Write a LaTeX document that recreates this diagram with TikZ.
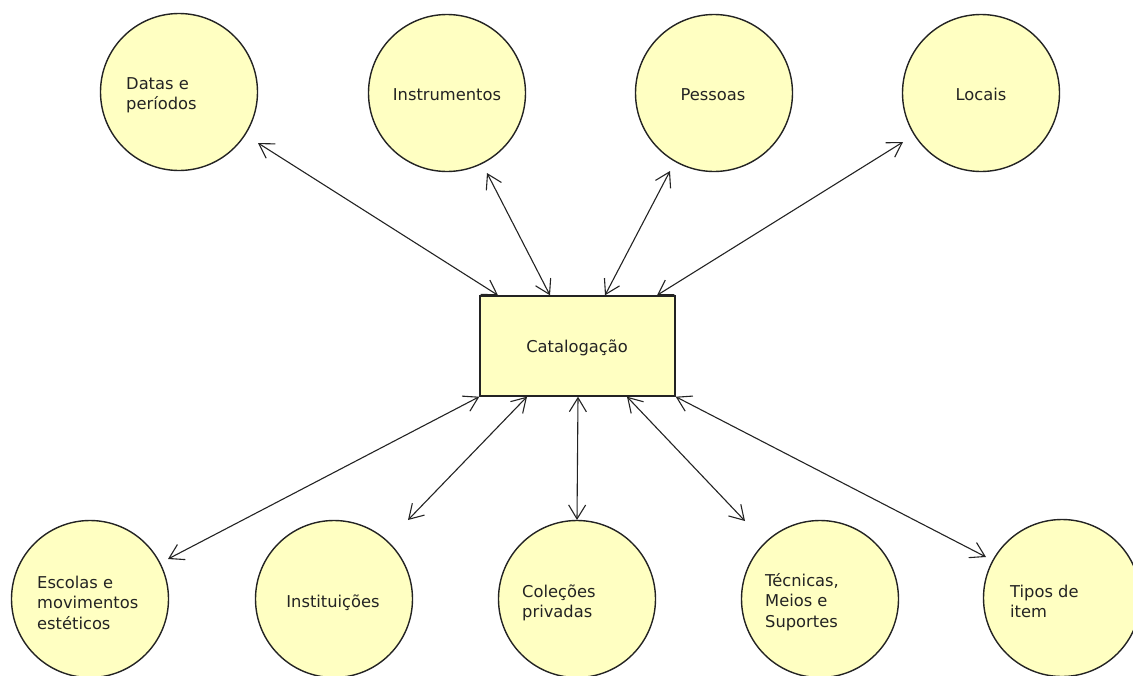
\documentclass[tikz,border=0pt]{standalone}
\usepackage{fontspec}
\setmainfont{DejaVu Sans}
\usetikzlibrary{arrows.meta,calc}
\definecolor{bubble}{RGB}{255,255,194}
\definecolor{ink}{RGB}{35,35,35}
\begin{document}
\begin{tikzpicture}[x=1pt,y=-1pt,
  topic/.style={circle,draw=ink,line width=1.4pt,fill=bubble,minimum size=157pt,inner sep=0pt},
  hub/.style={rectangle,draw=ink,line width=1.4pt,fill=bubble,minimum width=195pt,minimum height=100pt,inner sep=0pt},
  lbl/.style={text=ink,font=\fontsize{16.3}{20.5}\selectfont,inner sep=0pt,align=left},
  link/.style={draw=ink,line width=1.1pt,{Straight Barb[length=14pt,width=17pt]}-{Straight Barb[length=14pt,width=17pt]}}]
\useasboundingbox (0,0) rectangle (1133,675);
\clip (0,0) rectangle (1133,675);

% central box
\node[hub] (cat) at (577.5,346) {};
\node[lbl,anchor=base] (cat-t) at (577,352) {Catalogação};

% upper topics
\node[topic] (datas) at (179,92) {};
\node[topic] (instr) at (447,93) {};
\node[topic] (pess) at (714,93) {};
\node[topic] (loc) at (981,93) {};

% lower topics
\node[topic] (esc) at (90,599) {};
\node[topic] (inst) at (334,599) {};
\node[topic] (col) at (577,599) {};
\node[topic] (tec) at (820,599) {};
\node[topic] (tip) at (1062,598) {};

% labels (base anchor = baseline of the last line)
\node[lbl,anchor=base west] (datas-t) at ($(datas)+(-53,17.5)$) {Datas e\\períodos};
\node[lbl,anchor=base] (instr-t) at (447,100) {Instrumentos};
\node[lbl,anchor=base] (pess-t) at (713,100) {Pessoas};
\node[lbl,anchor=base] (loc-t) at (981,100) {Locais};
\node[lbl,anchor=base west] (esc-t) at ($(esc)+(-53,30)$) {Escolas e\\movimentos\\est\'{e}ticos};
\node[lbl,anchor=base] (inst-t) at (333,607) {Instituições};
\node[lbl,anchor=base west] (col-t) at ($(col)+(-55,18.5)$) {Coleções\\privadas};
\node[lbl,anchor=base west] (tec-t) at ($(tec)+(-55,28)$) {T\'{e}cnicas,\\Meios e\\Suportes};
\node[lbl,anchor=base west] (tip-t) at ($(tip)+(-52,19.5)$) {Tipos de\\item};

% connector ends near the topics
\coordinate (datas-e) at ($(datas)+(79,51)$);
\coordinate (instr-e) at ($(instr)+(40,80)$);
\coordinate (pess-e) at ($(pess)+(-44,78)$);
\coordinate (loc-e) at ($(loc)+(-78,49)$);
\coordinate (esc-e) at ($(esc)+(78,-40)$);
\coordinate (inst-e) at ($(inst)+(74,-79)$);
\coordinate (col-e) at ($(col)+(0,-79)$);
\coordinate (tec-e) at ($(tec)+(-75,-78)$);
\coordinate (tip-e) at ($(tip)+(-76,-41)$);

% connector ends on the central box
\coordinate (n1) at ($(cat.north)+(-79.5,0)$);
\coordinate (n2) at ($(cat.north)+(-27.5,0)$);
\coordinate (n3) at ($(cat.north)+(27.5,0)$);
\coordinate (n4) at ($(cat.north)+(79.5,0)$);
\coordinate (s1) at (cat.south west);
\coordinate (s2) at ($(cat.south)+(-50.5,0)$);
\coordinate (s3) at ($(cat.south)+(0.5,0)$);
\coordinate (s4) at ($(cat.south)+(49.5,0)$);
\coordinate (s5) at (cat.south east);

\draw[link] (datas-e) -- (n1);
\draw[link] (instr-e) -- (n2);
\draw[link] (pess-e) -- (n3);
\draw[link] (loc-e) -- (n4);
\draw[link] (esc-e) -- (s1);
\draw[link] (inst-e) -- (s2);
\draw[link] (col-e) -- (s3);
\draw[link] (tec-e) -- (s4);
\draw[link] (tip-e) -- (s5);
\end{tikzpicture}
\end{document}
